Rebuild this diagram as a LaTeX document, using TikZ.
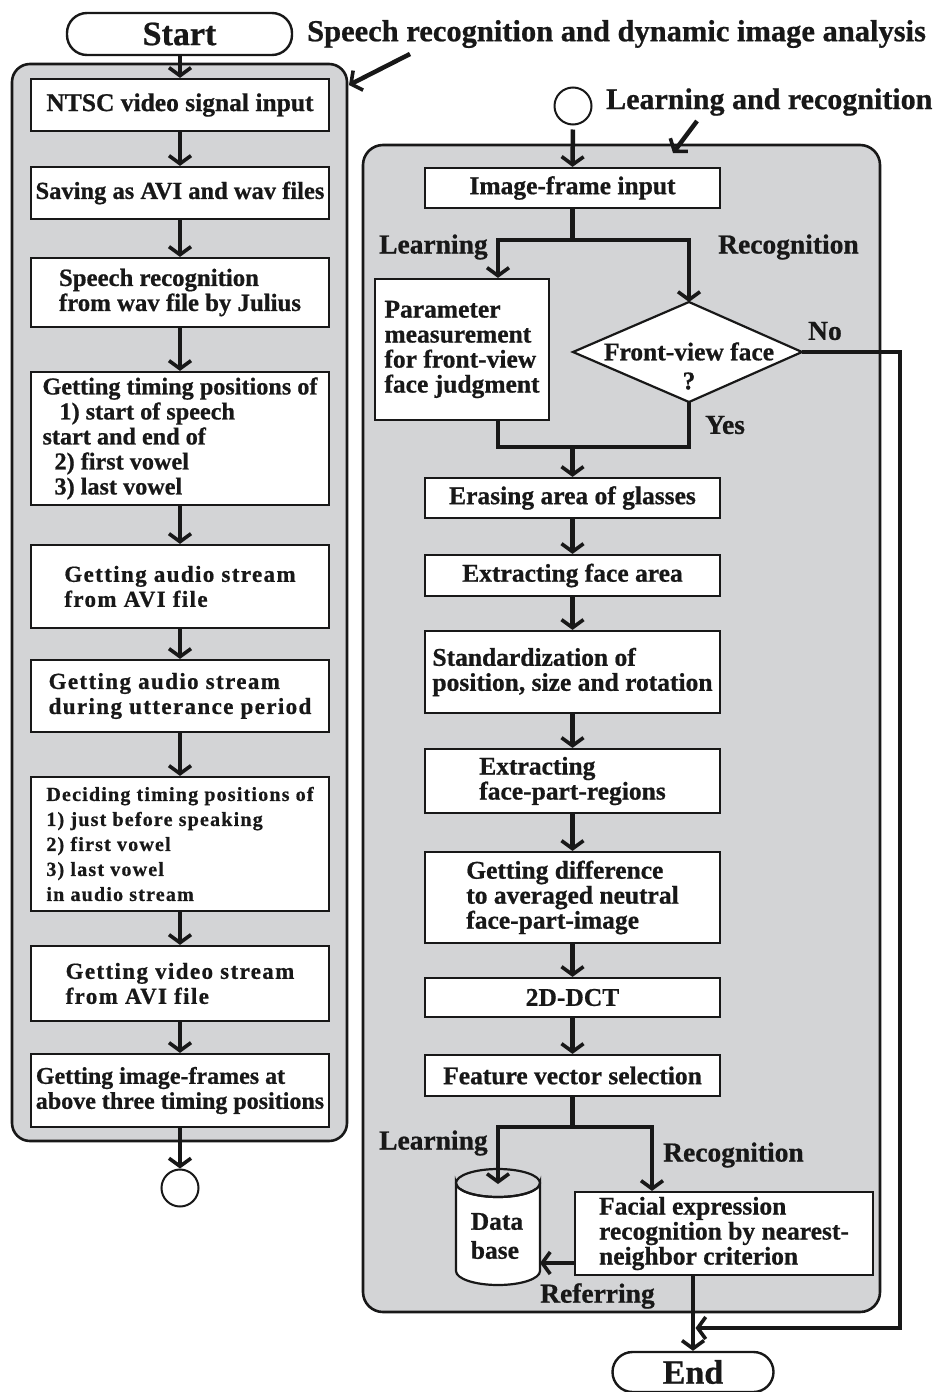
\documentclass[tikz,border=0pt]{standalone}
\usepackage{fontspec}
\setmainfont{Liberation Serif}[BoldFeatures={FakeBold=0.7}]
\newfontfamily\widefont{Liberation Serif}[LetterSpace=6,BoldFeatures={FakeBold=0.7}]
\usetikzlibrary{arrows.meta,calc}
\definecolor{panel}{RGB}{211,212,214}
\definecolor{ink}{RGB}{24,24,24}
\begin{document}
\begin{tikzpicture}[x=1pt,y=-1pt,
  every node/.style={font=\fontsize{25.5}{25}\selectfont\bfseries, text=ink},
  box/.style={draw=ink, fill=white, line width=2.2pt, inner sep=0pt, align=left},
  boxline/.style={draw=ink, line width=2.2pt},
  panelbox/.style={draw=ink, fill=panel, line width=2.6pt, rounded corners=18pt},
  pill/.style={draw=ink, fill=white, line width=2.4pt, rounded corners=20pt, inner sep=0pt},
  conn/.style={draw=ink, fill=white, line width=2pt, circle, inner sep=0pt, minimum size=37pt},
  line/.style={draw=ink, line width=4.5pt},
  flow/.style={draw=ink, line width=4.5pt, -{Straight Barb[length=8pt,width=22pt,line width=3.6pt]}},
  lab/.style={font=\fontsize{27.5}{28}\selectfont\bfseries, inner sep=0pt},
  title/.style={font=\fontsize{30.5}{32}\selectfont\bfseries, inner sep=0pt, anchor=west},
  wide/.style={font=\fontsize{23}{25}\selectfont\bfseries\widefont},
  big/.style={font=\fontsize{34}{36}\selectfont\bfseries},
  fs/.style={font=\fontsize{#1}{25}\selectfont\bfseries},
]
\useasboundingbox (0,0) rectangle (937,1392);
\fill[white] (0,0) rectangle (937,1392);

% ---------- panels ----------
\draw[panelbox] (12,64) rectangle (347,1141);
\draw[panelbox, rounded corners=20pt] (363,145) rectangle (880,1312);

% ---------- titles ----------
\node[title] (t1) at (307,34) {Speech recognition and dynamic image analysis};
\node[title, font=\fontsize{30}{32}\selectfont\bfseries] (t2) at (606,102) {Learning and recognition};
\coordinate (t1a) at (410,54);
\coordinate (t1b) at (349,85);
\coordinate (t2a) at (697,121);
\coordinate (t2b) at (673,153);
\draw[flow] (t1a) -- (t1b);
\draw[flow] (t2a) -- (t2b);

% ---------- left column ----------
\node[pill, big, minimum width=225pt, minimum height=42pt] (start) at (179.5,34) {Start};
\node[box, minimum width=298pt, minimum height=52pt] (n1) at (180,105) {NTSC video signal input};
\node[box, fs=24.5, minimum width=298pt, minimum height=52pt] (n2) at (180,193) {Saving as AVI and wav files};
\node[box, fs=24.8, minimum width=298pt, minimum height=69pt] (n3) at (180,292.5) {Speech recognition\\from wav file by Julius};
\node[box, fs=24.2, minimum width=298pt, minimum height=133pt] (n4) at (180,438.5) {Getting timing positions of\\\hspace*{17pt}1) start of speech\\start and end of\\\hspace*{12pt}2) first vowel\\\hspace*{12pt}3) last vowel};
\node[box, wide, minimum width=298pt, minimum height=83pt] (n5) at (180,586.5) {Getting audio stream\\from AVI file};
\node[box, wide, minimum width=298pt, minimum height=72pt] (n6) at (180,696) {Getting audio stream\\during utterance period};
\node[box, minimum width=298pt, minimum height=134pt, font=\fontsize{20}{25}\selectfont\bfseries\widefont] (n7) at (180,844) {Deciding timing positions of\\1) just before speaking\\2) first vowel\\3) last vowel\\in audio stream};
\node[box, wide, minimum width=298pt, minimum height=75pt] (n8) at (180,983.5) {Getting video stream\\from AVI file};
\node[box, fs=24, minimum width=298pt, minimum height=73pt] (n9) at (180,1090.5) {Getting image-frames at\\above three timing positions};
\node[conn] (lc) at (180,1188) {};

\draw[flow] (start.south -| n1.north) -- (n1.north);
\draw[flow] (n1.south) -- (n2.north);
\draw[flow] (n2.south) -- (n3.north);
\draw[flow] (n3.south) -- (n4.north);
\draw[flow] (n4.south) -- (n5.north);
\draw[flow] (n5.south) -- (n6.north);
\draw[flow] (n6.south) -- (n7.north);
\draw[flow] (n7.south) -- (n8.north);
\draw[flow] (n8.south) -- (n9.north);
\draw[flow] (n9.south) -- (lc.north);

% ---------- right column ----------
\node[conn] (rc) at (573,106) {};
\node[box, minimum width=295pt, minimum height=40pt] (r1) at (572.5,188) {Image-frame input};
\node[box, minimum width=174pt, minimum height=141pt] (param) at (462,349.5) {Parameter\\measurement\\for front-view\\face judgment};

\coordinate (dT) at (689,302);
\coordinate (dB) at (689,402);
\coordinate (dL) at (573,352);
\coordinate (dR) at (802,352);
\draw[boxline, fill=white] (dT) -- (dR) -- (dB) -- (dL) -- cycle;
\node[align=center, inner sep=0pt] (dq) at (689,366) {Front-view face\\[4pt]?};

\node[box, minimum width=295pt, minimum height=40pt] (r2) at (572.5,498) {Erasing area of glasses};
\node[box, minimum width=295pt, minimum height=41pt] (r3) at (572.5,575.5) {Extracting face area};
\node[box, minimum width=295pt, minimum height=82pt] (r4) at (572.5,672) {Standardization of\\position, size and rotation};
\node[box, minimum width=295pt, minimum height=64pt] (r5) at (572.5,781) {Extracting\\face-part-regions};
\node[box, minimum width=295pt, minimum height=91pt] (r6) at (572.5,897.5) {Getting difference\\to averaged neutral\\face-part-image};
\node[box, minimum width=295pt, minimum height=39pt] (r7) at (572.5,997.5) {2D-DCT};
\node[box, minimum width=295pt, minimum height=41pt] (r8) at (572.5,1075.5) {Feature vector selection};
\node[box, minimum width=298pt, minimum height=83pt] (fac) at (724,1233.5) {Facial expression\\recognition by nearest-\\neighbor criterion};

% database cylinder
\draw[boxline, fill=white] (456,1183) -- (456,1271)
  arc[start angle=180, end angle=0, x radius=42, y radius=14] -- (540,1183)
  arc[start angle=0, end angle=180, x radius=42, y radius=14] -- cycle;
\draw[boxline] (498,1183) ellipse[x radius=42, y radius=14];
\node[align=left, inner sep=0pt] (db) at (497,1236) {Data\\[4pt]base};
\coordinate (dbtop) at (498,1184);
\coordinate (dbR) at (540,1263);

\node[pill, big, minimum width=161pt, minimum height=40pt] (endn) at (693,1372) {End};

% labels
\node[lab, anchor=west] (lL1) at (379,247) {Learning};
\node[lab, anchor=west] (lR1) at (718,247) {Recognition};
\node[lab, anchor=west] (lNo) at (808,331) {No};
\node[lab, anchor=west] (lYes) at (705,425) {Yes};
\node[lab, anchor=west] (lL2) at (379,1143) {Learning};
\node[lab, anchor=west] (lR2) at (663,1155) {Recognition};
\node[lab, anchor=west] (lRef) at (540,1296) {Referring};

% connectors right
\coordinate (pl) at (498,240);
\coordinate (jn) at (498,447);
\draw[flow, shorten <=4pt] (rc.south) -- (r1.north);
\draw[line] (r1.south) -- (r1.south |- pl);
\draw[flow] ($(r1.south |- pl)+(2.25,0)$) -- (pl) -- (pl |- param.north);
\draw[flow] ($(r1.south |- pl)-(2.25,0)$) -- (dT |- pl) -- (dT);
\draw[line] (pl |- param.south) -- (jn) -- (dB |- jn) -- (dB);
\draw[flow] (r1.south |- jn) -- (r2.north);
\draw[flow] (r2.south) -- (r3.north);
\draw[flow] (r3.south) -- (r4.north);
\draw[flow] (r4.south) -- (r5.north);
\draw[flow] (r5.south) -- (r6.north);
\draw[flow] (r6.south) -- (r7.north);
\draw[flow] (r7.south) -- (r8.north);

\coordinate (lb) at (498,1127);
\coordinate (rb) at (652,1127);
\draw[line] (r8.south) -- (r8.south |- lb);
\draw[flow] ($(r8.south |- lb)+(2.25,0)$) -- (lb) -- (dbtop);
\draw[flow] ($(r8.south |- lb)-(2.25,0)$) -- (rb) -- (rb |- fac.north);
\draw[flow] (fac.west |- dbR) -- (dbR);
\draw[flow] (fac.south -| endn.north) -- (endn.north);

\coordinate (nr) at (900,1328);
\draw[flow] (dR) -- (dR -| nr) -- (nr) -- ($(endn.north |- nr)+(2.5,0)$);
\end{tikzpicture}
\end{document}
